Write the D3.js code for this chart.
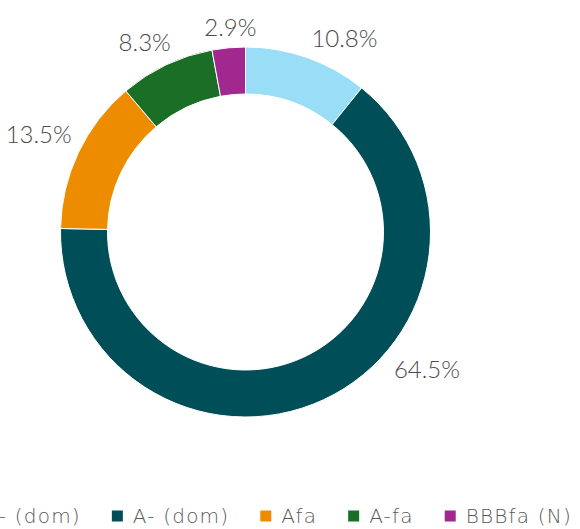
<!DOCTYPE html>
<html><head><meta charset="utf-8">
<script src="https://cdn.jsdelivr.net/npm/d3@7"></script>
<style>
html,body{margin:0;padding:0;background:#fff;overflow:hidden}
svg{display:block}
</style></head>
<body>
<svg id="c" width="580" height="529"></svg>
<script>
// data
const categories = ["AA- (dom)", "A- (dom)", "Afa", "A-fa", "BBBfa (N)"];
const values = [10.8, 64.5, 13.5, 8.3, 2.9];
const colors = ["#99DDF7", "#004E58", "#EE8C00", "#1B6E25", "#A0288F"];
// layout tweaks for label placement (degrees shift from slice mid-angle)
const labelAngleShift = [7.5, -28, 0, -2.5, 1];

const W = 580, H = 529;
const cx = 245.5, cy = 232, R = 185, r = 138;
const svg = d3.select("#c");
const g = svg.append("g").attr("transform", `translate(${cx},${cy})`);

const pie = d3.pie().sort(null).value(d => d.v);
const data = categories.map((c, i) => ({c, v: values[i], col: colors[i], i}));
const arcs = pie(data);
const arc = d3.arc().innerRadius(r).outerRadius(R);

g.selectAll("path").data(arcs).enter().append("path")
  .attr("d", arc).attr("fill", d => d.data.col)
  .attr("stroke", "#fff").attr("stroke-width", 1);

// labels
const fmt = d3.format(".1f");
const lbl = g.selectAll("text.l").data(arcs).enter().append("text")
  .attr("class", "l")
  .attr("text-anchor", "middle").attr("dominant-baseline", "central")
  .style("font-family", "Lato, 'Open Sans', sans-serif")
  .attr("font-size", 24).attr("font-weight", 300).attr("fill", "#4a4a4a")
  .text(d => fmt(d.data.v) + "%");
lbl.each(function(d) {
  const bb = this.getBBox();
  const w = bb.width, h = 19;
  const a = (d.startAngle + d.endAngle) / 2 + labelAngleShift[d.data.i] * Math.PI / 180;
  const ux = Math.sin(a), uy = -Math.cos(a);
  const he = Math.abs(ux) * w / 2 + Math.abs(uy) * h / 2;
  const dist = R + 10 + he;
  d3.select(this).attr("x", ux * dist).attr("y", uy * dist);
});

// legend
const leg = svg.append("g");
let x = 0;
const items = leg.selectAll("g").data(data).enter().append("g");
items.append("rect").attr("width", 11).attr("height", 11).attr("y", -5.5).attr("fill", d => d.col);
items.append("text").attr("x", 21).attr("dominant-baseline", "central")
  .style("font-family", "'DejaVu Sans', sans-serif").style("letter-spacing", "1.2px")
  .attr("font-size", 20).attr("font-weight", 200).attr("fill", "#595959").text(d => d.c);
items.each(function() {
  d3.select(this).attr("transform", `translate(${x},0)`);
  x += this.getBBox().width + 31;
});
const total = x - 31;
leg.attr("transform", `translate(${260 - total / 2},516)`);
</script>
</body></html>
